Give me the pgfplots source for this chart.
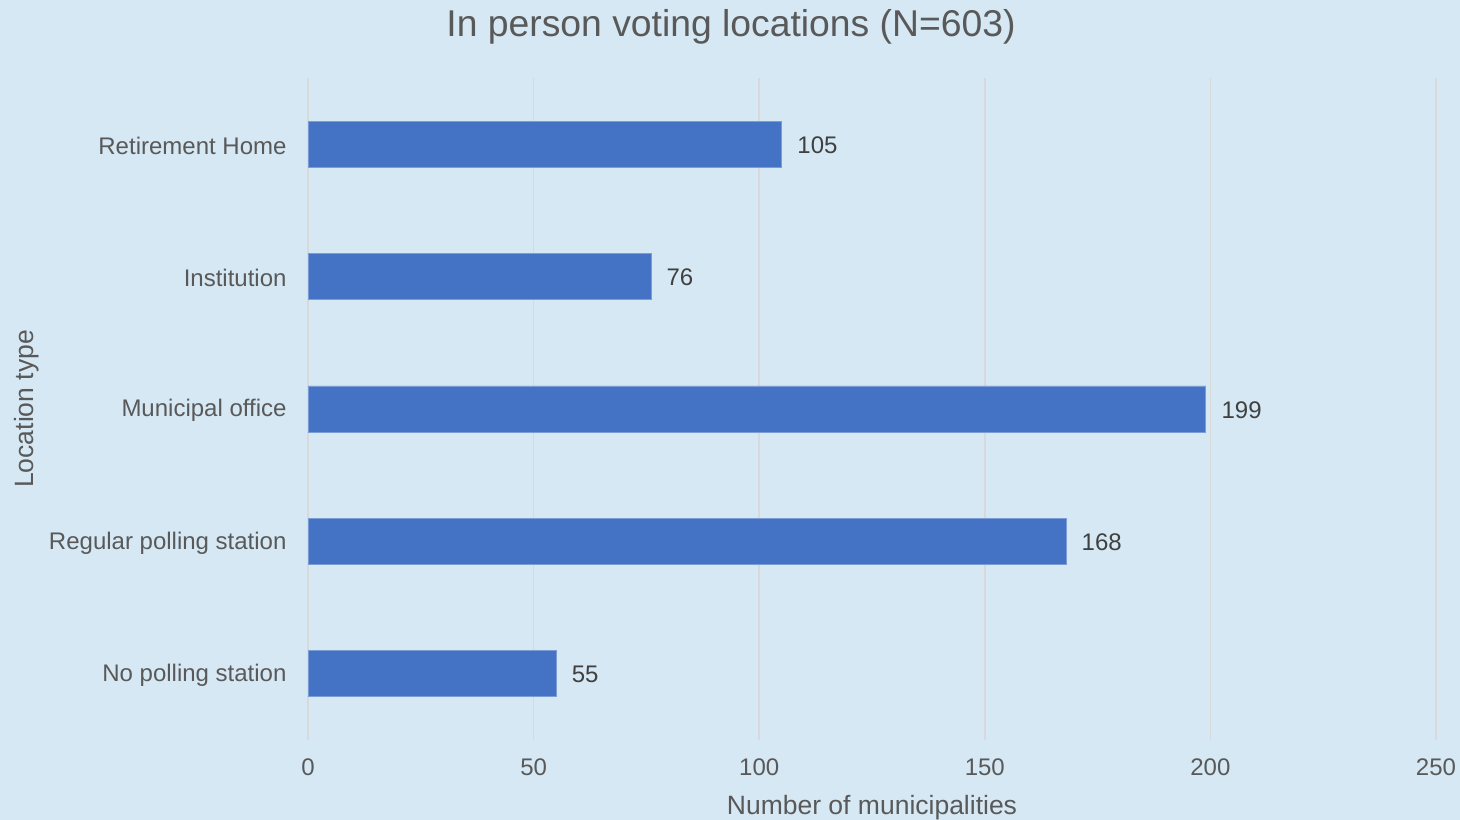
\documentclass[border=0pt]{standalone}
\usepackage{fontspec}
\setmainfont{Liberation Sans}
\usepackage{pgfplots}
\pgfplotsset{compat=1.18}
\definecolor{bgc}{HTML}{D5E8F3}
\definecolor{barc}{HTML}{4472C4}
\definecolor{gridc}{HTML}{D9D9D9}
\definecolor{txtc}{HTML}{595959}
\definecolor{lblc}{HTML}{404040}
\begin{document}
\begin{tikzpicture}
\fill[bgc] (0,0) rectangle (1460bp,820bp);
\begin{axis}[
  at={(308bp,80bp)}, anchor=south west,
  scale only axis, width=1128bp, height=662bp,
  xbar, bar width=46bp,
  xmin=0, xmax=250, ymin=-0.5, ymax=4.5,
  xtick={0,50,100,150,200,250},
  ytick={0,1,2,3,4},
  yticklabels={No polling station,Regular polling station,Municipal office,Institution,Retirement Home},
  axis line style={draw=none},
  major tick length=0pt,
  xmajorgrids, grid style={gridc, line width=1.5bp},
  ymajorgrids=false,
  /pgf/number format/assume math mode=true,
  tick label style={font=\fontsize{24bp}{28bp}\selectfont, text=txtc},
  xticklabel style={yshift=-15bp},
  yticklabel style={xshift=-18bp, yshift=-1.5bp},
  xlabel={Number of municipalities},
  xlabel style={at={(axis description cs:0.5,-0.1027)}, anchor=center, font=\fontsize{26.5bp}{30bp}\selectfont, text=txtc},
  ylabel={Location type},
  ylabel style={at={(axis description cs:-0.249,0.5)}, anchor=center, rotate=0, font=\fontsize{26.5bp}{30bp}\selectfont, text=txtc},
  nodes near coords,
  every node near coord/.append style={font=\fontsize{24bp}{28bp}\selectfont, text=lblc, xshift=12bp, yshift=-1bp},
  axis on top=false,
]
\addplot[fill=barc, draw=barc!70!white, line width=0.8bp] coordinates {(55,0) (168,1) (199,2) (76,3) (105,4)};
\end{axis}
\node[font=\fontsize{37.3bp}{42bp}\selectfont, text=txtc] at (731bp,793bp) {In person voting locations (N=603)};
\pgfresetboundingbox
\path (0,0) rectangle (1460bp,820bp);
\end{tikzpicture}
\end{document}
